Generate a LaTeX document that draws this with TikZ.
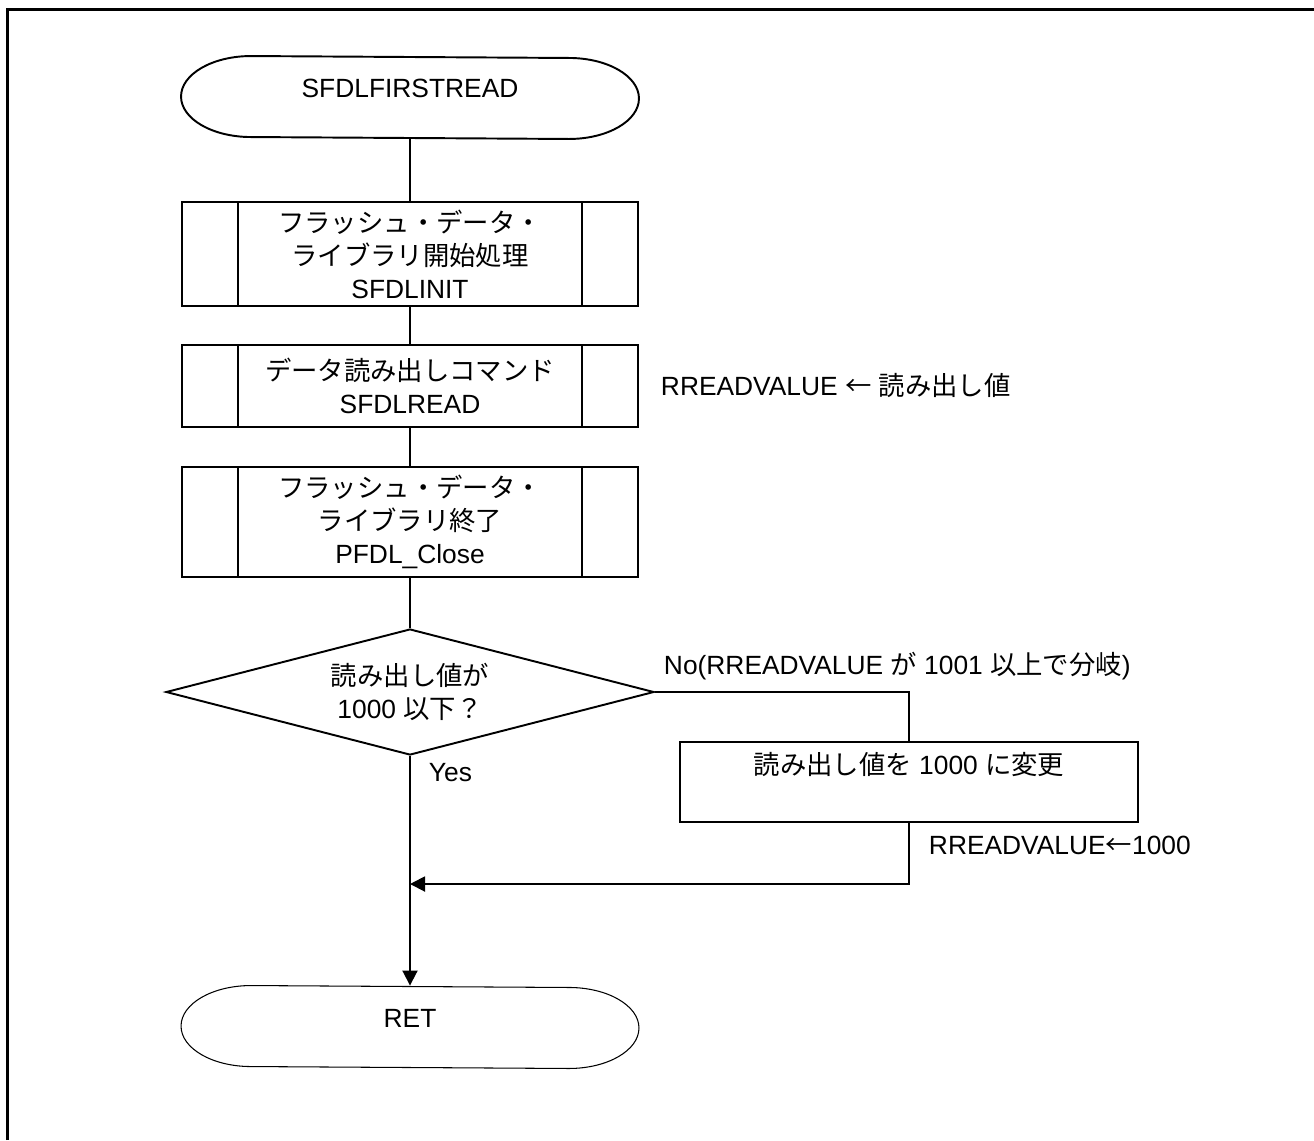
\documentclass[tikz,border=0pt]{standalone}
\usepackage{fontspec}
\setmainfont{Liberation Sans}
\newfontfamily\jpfont{Noto Sans CJK JP}
\usetikzlibrary{shapes.geometric,arrows.meta}

\begin{document}
\begin{tikzpicture}[line width=1.1pt]
        % Define styles
        \tikzset{
            every node/.style={font=\fontsize{15pt}{18.8pt}\selectfont},
            terminal/.style={rectangle, minimum width=9.12cm, minimum height=1.62cm, text height=0.45cm, text depth=0.45cm},
            subroutine/.style={rectangle, draw, minimum width=9.12cm, align=center,
                path picture={
                    \draw ([xshift=1.12cm]path picture bounding box.north west) -- ([xshift=1.12cm]path picture bounding box.south west);
                    \draw ([xshift=-1.12cm]path picture bounding box.north east) -- ([xshift=-1.12cm]path picture bounding box.south east);
                }},
            process/.style={rectangle, draw, minimum width=9.16cm, minimum height=1.6cm, text height=0.45cm, text depth=0.75cm},
            decision/.style={diamond, draw, aspect=3.86, minimum width=9.76cm, minimum height=2.52cm, inner sep=0pt, align=center},
            note/.style={anchor=west, inner sep=0pt},
            arrow/.style={-{Triangle[length=0.3cm,width=0.3cm]}}
        }
        \useasboundingbox (0,0) rectangle (26.28,-22.8);

        % Frame
        \draw[line width=0.06cm] (0.14,-22.8) -- (0.14,-0.18) -- (26.28,-0.18);

        % Nodes
        \node[terminal] (start) at (8.2,-1.95) {SFDLFIRSTREAD};
        \node[subroutine, minimum height=2.08cm] (init) at (8.2,-5.08) {{\jpfont フラッシュ・データ・}\\{\jpfont ライブラリ開始処理}\\SFDLINIT};
        \node[subroutine, minimum height=1.64cm] (read) at (8.2,-7.72) {{\jpfont データ読み出しコマンド}\\SFDLREAD};
        \node[subroutine, minimum height=2.2cm] (close) at (8.2,-10.44) {{\jpfont フラッシュ・データ・}\\{\jpfont ライブラリ終了}\\PFDL\_Close};
        \node[decision] (check) at (8.2,-13.84) {{\jpfont 読み出し値が}\\1000 {\jpfont 以下？}};
        \node[process] (clamp) at (18.18,-15.64) {{\jpfont 読み出し値を} 1000 {\jpfont に変更}};
        \coordinate (merge) at (8.2,-17.68);
        \node[terminal] (ret) at (8.2,-20.54) {RET};

        % Terminal outlines
        \draw ([xshift=1.4cm]start.north west) arc[start angle=90, end angle=270, x radius=1.4cm, y radius=0.81cm]
            -- ([xshift=-1.4cm]start.south east) arc[start angle=-90, end angle=90, x radius=1.4cm, y radius=0.81cm] -- cycle;
        \draw[line width=0.6pt] ([xshift=1.4cm]ret.north west) arc[start angle=90, end angle=270, x radius=1.4cm, y radius=0.81cm]
            -- ([xshift=-1.4cm]ret.south east) arc[start angle=-90, end angle=90, x radius=1.4cm, y radius=0.81cm] -- cycle;

        % Notes
        \node[note] (readnote) at (13.2,-7.7) {RREADVALUE {\jpfont ←} {\jpfont 読み出し値}};
        \node[note] (nolabel) at (13.26,-13.32) {No(RREADVALUE {\jpfont が} 1001 {\jpfont 以上で分岐})};
        \node[note] (yeslabel) at (8.56,-15.46) {Yes};
        \node[note] (setnote) at (18.56,-16.9) {RREADVALUE{\jpfont ←}1000};

        % Arrows
        \draw (start) -- (init);
        \draw (init) -- (read);
        \draw (read) -- (close);
        \draw (close) -- (check);
        \draw (check.east) -| (clamp.north);
        \draw[arrow] (clamp.south) |- (merge);
        \draw[arrow] (check.south) -- (ret.north);
\end{tikzpicture}
\end{document}
